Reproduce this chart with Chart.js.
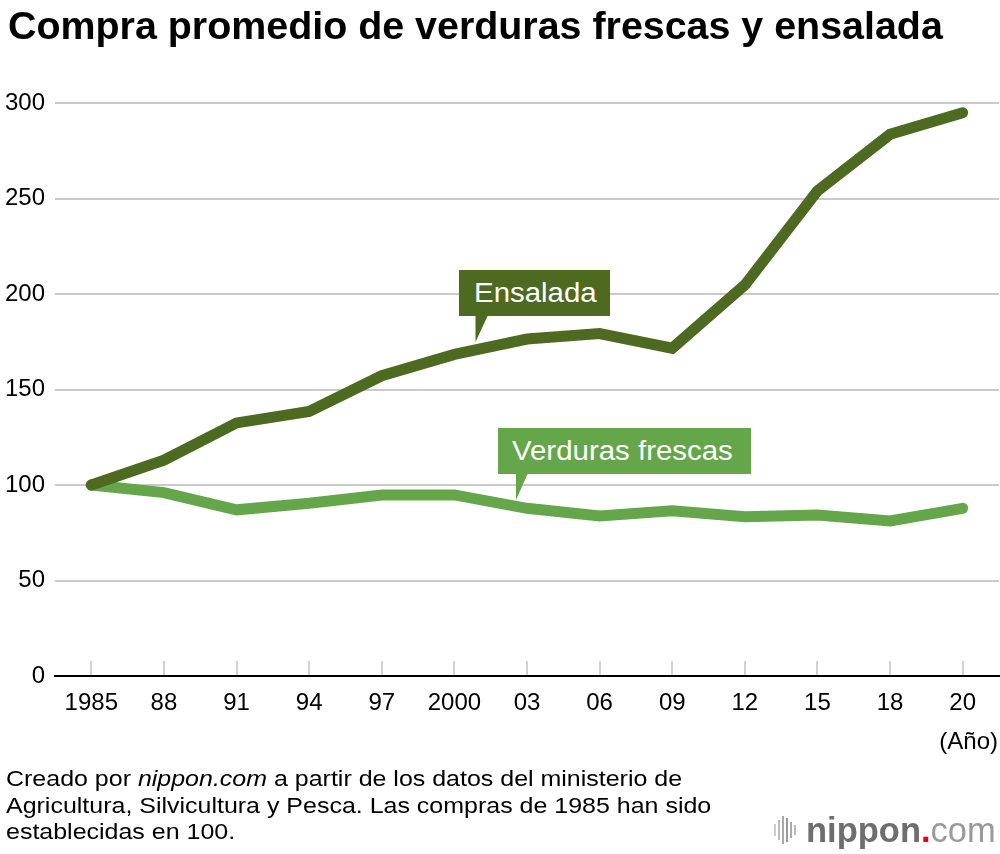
<!DOCTYPE html>
<html>
<head>
<meta charset="utf-8">
<script src="https://cdn.jsdelivr.net/npm/chart.js@4"></script>
<style>
  html, body { margin:0; padding:0; background:#fff; }
  body { width:1000px; height:854px; position:relative; overflow:hidden; font-family:"Liberation Sans", Arial, Helvetica, sans-serif; color:#000; }
  #c { position:absolute; left:0; top:0; }
  .title { position:absolute; left:8px; top:6px; font-size:39.4px; font-weight:bold; line-height:39px; white-space:nowrap; color:#000; }
  .note { position:absolute; left:6px; top:766px; font-size:22.5px; line-height:26.5px; white-space:nowrap; transform:scaleX(1.11); transform-origin:left top; color:#000; }
  .unit { position:absolute; right:2px; top:727px; font-size:24px; line-height:28px; color:#000; }
  .lbl { position:absolute; color:#fff; font-size:27px; line-height:46px; height:46px; white-space:nowrap; }
  .lbl span { display:inline-block; transform:scaleX(1.09); transform-origin:left center; }
  .logo { position:absolute; left:770px; top:810px; height:40px; white-space:nowrap; }
  .bars { position:absolute; left:0; top:0; width:34px; height:40px; }
  .bars i { position:absolute; width:2px; background:#999; }
  .ltxt { position:absolute; left:36px; top:0; font-size:34.5px; line-height:40px; }
</style>
</head>
<body>
<canvas id="c" width="1000" height="854"></canvas>
<div class="title">Compra promedio de verduras frescas y ensalada</div>
<div class="unit">(Año)</div>
<div class="lbl" style="left:459px; top:270px; width:151px; background:#4e6a21;"><span style="margin-left:15px;">Ensalada</span></div>
<svg style="position:absolute;left:470px;top:314px;" width="24" height="30"><polygon points="5.5,0 18.5,0 5.5,28" fill="#4e6a21"/></svg>
<div class="lbl" style="left:498px; top:428px; width:253px; background:#66a64b;"><span style="margin-left:14px;">Verduras frescas</span></div>
<svg style="position:absolute;left:510px;top:472px;" width="24" height="30"><polygon points="6,0 18.5,0 6,28" fill="#66a64b"/></svg>
<div class="note">Creado por <i>nippon.com</i> a partir de los datos del ministerio de<br>Agricultura, Silvicultura y Pesca. Las compras de 1985 han sido<br>establecidas en 100.</div>
<div class="logo">
  <div class="bars">
    <i style="left:4px; top:14px; height:12px; background:#ccc;"></i>
    <i style="left:8px; top:10px; height:20px; background:#bbb;"></i>
    <i style="left:12px; top:6px; height:28px; background:#aaa;"></i>
    <i style="left:16px; top:8px; height:24px; background:#999;"></i>
    <i style="left:20px; top:12px; height:16px; background:#aaa;"></i>
    <i style="left:24px; top:15px; height:10px; background:#bbb;"></i>
  </div>
  <div class="ltxt"><b style="color:#6e6e6e;">nippon</b><span style="color:#e60012;font-weight:bold;">.</span><span style="color:#9a9a9a;">com</span></div>
</div>
<script>
const years = ['1985','88','91','94','97','2000','03','06','09','12','15','18','20'];
const ensalada = [100, 113, 132.5, 138.5, 157.2, 168.4, 176.4, 179.3, 171.6, 204.7, 254, 283.6, 294.9];
const verduras = [100, 96, 87, 90.4, 94.8, 94.8, 87.8, 83.8, 86.5, 83.4, 84.3, 81.2, 87.8];
const yTicks = [0, 50, 100, 150, 200, 250, 300];

const tickMarks = {
  id: 'tickMarks',
  beforeDatasetsDraw(chart) {
    const x = chart.scales.x, ctx = chart.ctx, b = chart.chartArea.bottom;
    ctx.save();
    ctx.strokeStyle = '#d2d2d2';
    ctx.lineWidth = 2;
    x.ticks.forEach((t, i) => {
      const px = Math.round(x.getPixelForTick(i));
      ctx.beginPath();
      ctx.moveTo(px, b - 15);
      ctx.lineTo(px, b - 1);
      ctx.stroke();
    });
    ctx.restore();
  }
};

new Chart(document.getElementById('c'), {
  type: 'line',
  data: {
    labels: years,
    datasets: [
      { label: 'Ensalada', data: ensalada, borderColor: '#4e6a21', borderWidth: 11, pointRadius: 0, tension: 0, borderCapStyle: 'round', borderJoinStyle: 'miter' },
      { label: 'Verduras frescas', data: verduras, borderColor: '#66a64b', borderWidth: 11, pointRadius: 0, tension: 0, borderCapStyle: 'round', borderJoinStyle: 'miter' }
    ]
  },
  options: {
    responsive: false,
    animation: false,
    devicePixelRatio: 1,
    layout: { padding: { top: 103, left: 0, right: 1, bottom: 138 } },
    plugins: { legend: { display: false }, tooltip: { enabled: false } },
    scales: {
      x: {
        offset: true,
        grid: { display: false, drawTicks: false },
        border: { display: true, color: '#000', width: 2 },
        ticks: { color: '#000', font: { family: 'Liberation Sans', size: 24 }, padding: 13, maxRotation: 0, autoSkip: false },
        afterFit(s) { s.height = 40; }
      },
      y: {
        min: 0, max: 300,
        afterBuildTicks(s) { s.ticks = yTicks.map(v => ({ value: v })); },
        grid: { drawTicks: false, lineWidth: 2, color: ctx => ctx.tick && ctx.tick.value === 0 ? 'rgba(0,0,0,0)' : '#cacaca' },
        border: { display: false },
        ticks: { color: '#000', font: { family: 'Liberation Sans', size: 24 }, padding: 10 },
        afterFit(s) { s.width = 55; }
      }
    }
  },
  plugins: [tickMarks]
});
</script>
</body>
</html>
